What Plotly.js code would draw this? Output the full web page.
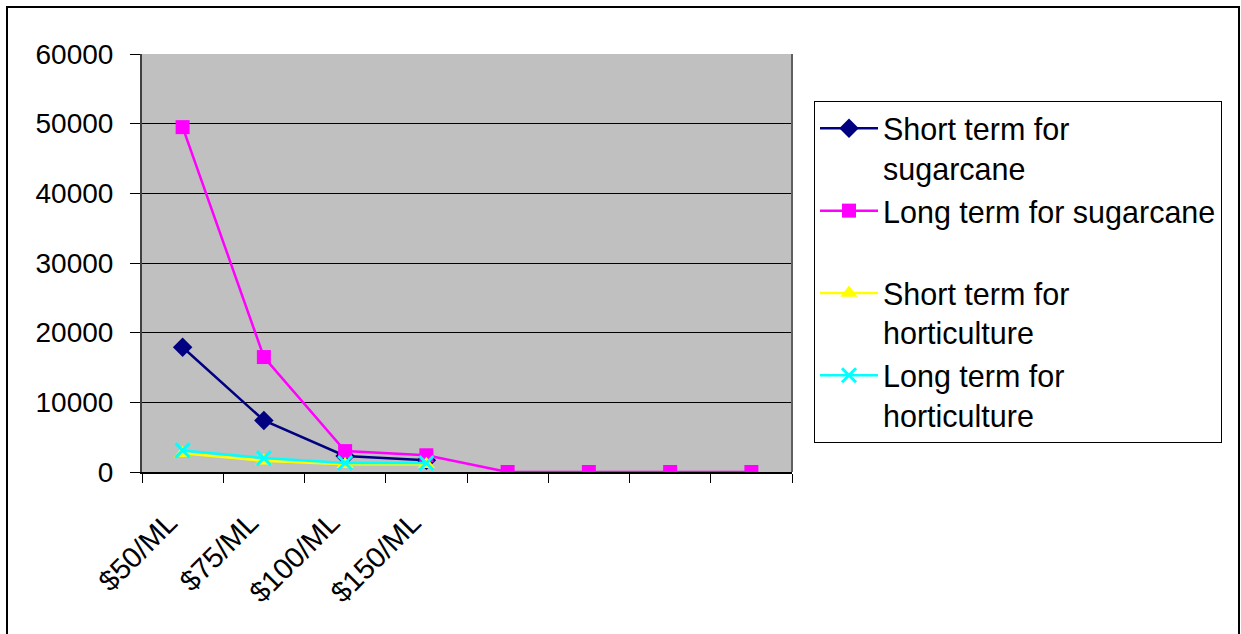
<!DOCTYPE html>
<html>
<head>
<meta charset="utf-8">
<script src="https://cdn.plot.ly/plotly-3.0.1.min.js"></script>
<style>
html,body{margin:0;padding:0;background:#fff;}
#chart{width:1241px;height:634px;}
</style>
</head>
<body>
<div id="chart"></div>
<script>
const categories = ["$50/ML", "$75/ML", "$100/ML", "$150/ML", " ", "  ", "   ", "    "];
const shortSugarcane = [17900, 7400, 2300, 1700];
const longSugarcane = [49500, 16500, 3000, 2400, 0, 0, 0, 0];
const shortHorticulture = [2700, 1600, 1100, 1100];
const longHorticulture = [3100, 2000, 1300, 1300];
const seriesNames = ["Short term for<br>sugarcane", "Long term for sugarcane<br>\u00a0", "Short term for<br>horticulture", "Long term for<br>horticulture"];

const F = "Liberation Sans, Arial, sans-serif";

const traces = [
  {x: categories.slice(0, shortSugarcane.length), y: shortSugarcane, name: seriesNames[0], type: "scatter", mode: "lines+markers",
   line: {color: "#000080", width: 2.5}, marker: {symbol: "diamond", size: 15, color: "#000080"}},
  {x: categories.slice(0, longSugarcane.length), y: longSugarcane, name: seriesNames[1], type: "scatter", mode: "lines+markers",
   line: {color: "#FF00FF", width: 2.5}, marker: {symbol: "square", size: 14, color: "#FF00FF"}},
  {x: categories.slice(0, shortHorticulture.length), y: shortHorticulture, name: seriesNames[2], type: "scatter", mode: "lines+markers",
   line: {color: "#FFFF00", width: 2.5}, marker: {symbol: "triangle-up", size: 15, color: "#FFFF00"}},
  {x: categories.slice(0, longHorticulture.length), y: longHorticulture, name: seriesNames[3], type: "scatter", mode: "lines+markers",
   line: {color: "#00FFFF", width: 2.5}, marker: {symbol: "x-thin", size: 14, line: {color: "#00FFFF", width: 3}, color: "#00FFFF"}}
];

const L = 142, R = 449, T = 54, B = 162, W = 1241, H = 634;
const pw = W - L - R, ph = H - T - B;
const px = v => (v - L) / pw;
const py = v => (H - B - v) / ph;

const layout = {
  width: W, height: H,
  margin: {l: L, r: R, t: T, b: B, pad: 0},
  paper_bgcolor: "#ffffff",
  plot_bgcolor: "#C0C0C0",
  font: {family: F, size: 28, color: "#000"},
  showlegend: true,
  legend: {
    x: px(814), y: py(101), xanchor: "left", yanchor: "top",
    bgcolor: "#ffffff", bordercolor: "#000", borderwidth: 1,
    font: {family: F, size: 30.5, color: "#000"},
    tracegroupgap: 0, itemwidth: 58, valign: "top"
  },
  xaxis: {
    type: "category", categoryorder: "array", categoryarray: categories,
    range: [-0.5, 7.5], tickson: "boundaries", ticks: "outside", ticklen: 9, tickcolor: "#000", tickwidth: 1,
    tickangle: -45, showgrid: false, zeroline: false,
    showline: true, linecolor: "#000", linewidth: 2, mirror: false,
    ticklabelstandoff: 20, ticklabelshift: -14,
    tickfont: {family: F, size: 29, color: "#000"}, fixedrange: true
  },
  yaxis: {
    range: [0, 60000], dtick: 10000, tick0: 0, tickformat: "d",
    ticks: "outside", ticklen: 10, tickcolor: "#000", tickwidth: 1,
    showgrid: true, gridcolor: "#000", gridwidth: 1, zeroline: false,
    showline: true, linecolor: "#404040", linewidth: 2,
    ticklabelstandoff: 11,
    tickfont: {family: F, size: 28, color: "#000"}, fixedrange: true
  },
  shapes: [
    {type: "line", xref: "paper", yref: "paper", x0: 1, x1: 1, y0: 0, y1: 1, line: {color: "#606060", width: 2}},
    {type: "rect", xref: "paper", yref: "paper", x0: px(7), x1: px(1239), y0: py(645), y1: py(7),
     line: {color: "#000", width: 2}, fillcolor: "rgba(0,0,0,0)"}
  ]
};

Plotly.newPlot("chart", traces, layout, {displayModeBar: false, staticPlot: true});
</script>
</body>
</html>
